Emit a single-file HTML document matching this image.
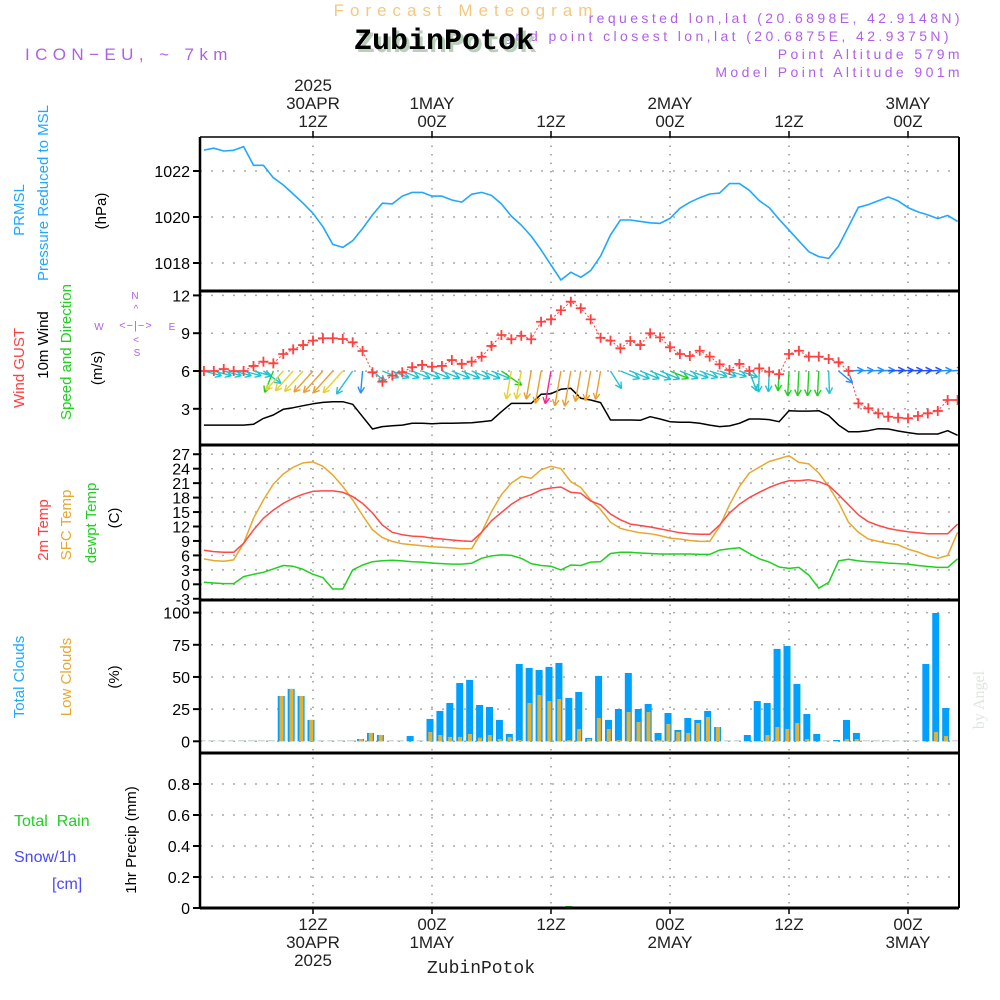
<!DOCTYPE html>
<html><head><meta charset="utf-8"><title>Meteogram ZubinPotok</title>
<style>
html,body{margin:0;padding:0;background:#fff;}
svg{display:block;font-family:"Liberation Sans",sans-serif;}
.tk{font-size:16px;fill:#000;}
.tm{font-size:17px;fill:#222;text-anchor:middle;}
.pl{font-size:14px;fill:#b060e8;text-anchor:end;letter-spacing:3.4px;}
</style></head>
<body>
<svg id="chart" width="1000" height="1000" viewBox="0 0 1000 1000" xmlns="http://www.w3.org/2000/svg">
  <defs><clipPath id="plotclip"><rect x="200" y="137" width="759" height="771"/></clipPath></defs>
  <text x="466" y="16" text-anchor="middle" font-size="17" fill="#f5c880" letter-spacing="6">Forecast Meteogram</text>
  <text class="pl" x="963" y="23">requested lon,lat (20.6898E, 42.9148N)</text>
  <text class="pl" x="952" y="41">grid point closest lon,lat (20.6875E, 42.9375N)</text>
  <text x="447" y="52" text-anchor="middle" font-family="'Liberation Mono',monospace" font-weight="bold" font-size="30" fill="#b8d0b8">ZubinPotok</text>
  <text x="444" y="49" text-anchor="middle" font-family="'Liberation Mono',monospace" font-weight="bold" font-size="30" fill="#000">ZubinPotok</text>
  <text x="25" y="60" font-size="17" fill="#b060e8" letter-spacing="5.4">ICON−EU, ~ 7km</text>
  <text class="pl" x="963" y="59">Point Altitude 579m</text>
  <text class="pl" x="963" y="77">Model Point Altitude 901m</text>

  <g font-size="15">
    <text transform="translate(24,210) rotate(-90)" text-anchor="middle" fill="#20a8ff">PRMSL</text>
    <text transform="translate(48,193) rotate(-90)" text-anchor="middle" fill="#20a8ff">Pressure Reduced to MSL</text>
    <text transform="translate(106,211) rotate(-90)" text-anchor="middle" fill="#000">(hPa)</text>
    <text transform="translate(24,368) rotate(-90)" text-anchor="middle" fill="#ff4040">Wind GUST</text>
    <text transform="translate(48,345) rotate(-90)" text-anchor="middle" fill="#000">10m Wind</text>
    <text transform="translate(71,352) rotate(-90)" text-anchor="middle" fill="#20d020">Speed and Direction</text>
    <text transform="translate(102,368) rotate(-90)" text-anchor="middle" fill="#000">(m/s)</text>
    <text transform="translate(48,530) rotate(-90)" text-anchor="middle" fill="#ff4040">2m Temp</text>
    <text transform="translate(71,525) rotate(-90)" text-anchor="middle" fill="#e8a830">SFC Temp</text>
    <text transform="translate(96,523) rotate(-90)" text-anchor="middle" fill="#20d020">dewpt Temp</text>
    <text transform="translate(119,518) rotate(-90)" text-anchor="middle" fill="#000">(C)</text>
    <text transform="translate(24,677) rotate(-90)" text-anchor="middle" fill="#20a8ff">Total Clouds</text>
    <text transform="translate(71,677) rotate(-90)" text-anchor="middle" fill="#e8a830">Low Clouds</text>
    <text transform="translate(119,677) rotate(-90)" text-anchor="middle" fill="#000">(%)</text>
    <text x="14" y="826" fill="#20d020" font-size="16" xml:space="preserve">Total  Rain</text>
    <text x="14" y="862" fill="#4848ff" font-size="16">Snow/1h</text>
    <text x="52" y="889" fill="#4848ff" font-size="16">[cm]</text>
    <text transform="translate(136,840) rotate(-90)" text-anchor="middle" fill="#000">1hr Precip (mm)</text>
  </g>
  <g fill="#b060e8" stroke="none" font-size="10">
    <text x="135" y="299" text-anchor="middle">N</text>
    <text x="136" y="312" text-anchor="middle">^</text>
    <text x="99" y="330" text-anchor="middle">W</text>
    <text x="172" y="330" text-anchor="middle">E</text>
    <text x="136" y="329" text-anchor="middle" font-size="11" letter-spacing="1">&lt;−|−&gt;</text>
    <text x="136" y="343" text-anchor="middle">&lt;</text>
    <text x="137" y="356" text-anchor="middle">S</text>
  </g>
  <text transform="translate(984,700) rotate(-90)" text-anchor="middle" font-family="'Liberation Serif',serif" font-size="16" fill="#dde6dd">by Angel</text>
  <text x="481" y="973" text-anchor="middle" font-family="'Liberation Mono',monospace" font-size="18" fill="#222">ZubinPotok</text>

  <g id="grid"></g>
  <g id="marks" clip-path="url(#plotclip)"></g>
  <g id="frame"></g>
  <g id="labels"></g>
</svg>
<script>
const hours = [];
for (let h = 1; h <= 77; h++) hours.push(h);
const pressure = [1022.91,1022.99,1022.87,1022.9,1023.06,1022.25,1022.25,1021.71,1021.39,1021.0,1020.6,1020.16,1019.58,1018.81,1018.68,1018.97,1019.5,1020.09,1020.6,1020.57,1020.91,1021.07,1021.07,1020.91,1020.91,1020.74,1020.65,1020.99,1021.07,1020.94,1020.57,1020.04,1019.65,1019.17,1018.57,1017.91,1017.26,1017.6,1017.38,1017.67,1018.30,1019.22,1019.87,1019.87,1019.81,1019.75,1019.72,1019.94,1020.38,1020.64,1020.84,1021.0,1021.04,1021.45,1021.45,1021.16,1020.71,1020.41,1019.9,1019.43,1018.96,1018.49,1018.28,1018.2,1018.74,1019.58,1020.42,1020.54,1020.71,1020.87,1020.70,1020.41,1020.22,1020.09,1019.93,1020.07,1019.81];
const gust = [6.0,6.0,6.16,6.0,6.0,6.4,6.74,6.61,7.35,7.72,8.06,8.41,8.6,8.6,8.54,8.28,7.59,5.90,5.15,5.63,5.90,6.30,6.48,6.34,6.4,6.87,6.56,6.74,7.13,7.99,8.86,8.52,8.80,8.52,9.91,10.1,10.82,11.5,10.98,10.1,8.64,8.41,7.80,8.38,8.06,8.99,8.67,7.88,7.35,7.19,7.61,7.14,6.53,6.08,6.56,6.0,6.21,5.94,5.74,7.35,7.61,7.14,7.14,6.95,6.69,6.0,3.43,3.04,2.64,2.37,2.29,2.24,2.43,2.64,2.83,3.70,3.70];
const windSpeed = [1.71,1.71,1.71,1.71,1.71,1.77,2.24,2.51,2.96,3.09,3.25,3.40,3.51,3.56,3.56,3.36,2.37,1.40,1.59,1.66,1.71,1.85,1.85,1.82,1.85,1.85,1.87,1.90,1.98,2.06,2.77,3.43,3.43,3.43,4.15,4.2,4.55,4.63,3.83,3.70,3.49,2.11,2.11,2.11,2.09,2.37,2.19,1.98,1.93,1.93,1.85,1.71,1.59,1.64,1.85,2.19,2.19,2.14,1.98,2.85,2.82,2.82,2.85,2.46,1.71,1.18,1.18,1.26,1.42,1.40,1.24,1.11,1.0,1.0,1.0,1.26,0.90];
const windDir = [15,15,15,15,15,15,35,112,132,132,132,132,132,132,132,125,95,40,22,22,22,22,22,22,22,22,22,22,22,22,35,100,100,100,100,100,100,100,100,100,100,58,22,22,22,22,22,22,22,20,20,18,18,18,18,70,92,92,93,93,93,93,93,88,40,-3,-3,-3,-3,-3,-3,-3,-3,-3,-3,-3,-3];
const windCol = ['c','c','c','c','c','c','c','g','y','y','y','o','o','o','y','c','b','c','c','c','c','c','c','c','c','c','c','c','c','c','g','y','y','o','o','p','o','o','o','o','o','c','c','c','c','c','c','g','c','c','c','c','c','c','c','c','c','c','g','g','g','g','g','c','b','b','b','b','b','d','d','d','d','d','b','b','b'];
const temp2m = [7.07,6.79,6.65,6.65,8.52,11.3,13.7,15.4,16.8,17.9,18.7,19.3,19.4,19.4,19.1,18.2,16.8,14.8,12.3,10.8,10.3,10.0,9.9,9.6,9.4,9.2,9.0,8.9,10.8,13.2,14.9,16.6,17.9,18.6,19.6,20.0,20.2,19.1,18.9,17.3,16.5,14.6,13.4,12.5,12.2,11.9,11.5,11.1,10.7,10.5,10.4,10.4,12.3,14.8,16.6,18.0,19.1,20.1,20.9,21.5,21.5,21.7,21.3,20.5,18.6,16.5,14.4,13.0,12.2,11.6,11.2,10.9,10.7,10.5,10.5,10.5,12.5];
const sfcTemp = [5.27,4.92,4.78,5.06,8.52,13.7,17.5,20.8,22.9,24.3,25.2,25.4,24.5,22.7,20.3,17.5,14.3,11.3,9.7,8.9,8.4,8.2,8.0,7.8,7.7,7.55,7.4,7.4,10.8,15.1,18.6,21.0,22.4,22.0,23.8,24.5,24.0,21.3,20.1,17.5,15.5,12.9,11.6,11.1,10.7,10.5,10.1,9.6,9.4,9.1,8.9,8.9,12.0,16.5,20.3,23.1,24.3,25.5,26.1,26.7,25.3,25.0,23.1,20.3,17.0,12.9,10.8,9.4,8.9,8.5,8.2,7.3,6.7,5.9,5.4,6.0,10.8];
const dewpt = [0.42,0.28,0.14,0.14,1.6,2.08,2.5,3.2,3.9,3.74,3.1,2.08,1.39,-0.97,-0.97,2.98,4.0,4.7,4.9,5.0,4.85,4.7,4.6,4.4,4.3,4.2,4.2,4.37,5.4,5.9,6.1,6.0,5.4,4.3,3.9,3.74,2.98,4.0,3.9,4.6,4.7,6.4,6.65,6.65,6.5,6.4,6.3,6.3,6.3,6.3,6.2,6.2,7.1,7.4,7.6,6.4,5.3,4.6,3.6,3.3,3.5,1.9,-0.8,0.4,4.85,5.2,4.85,4.7,4.6,4.4,4.3,4.2,3.9,3.7,3.5,3.5,5.3];
const totalClouds = [0,0,0,0,0,0,0,0,35.2,40.7,35.2,16.6,0,0,0,0,1.8,6.5,4.9,0,0,4.1,0,17.4,23.6,29.8,45.3,47.7,28.2,26.7,16.6,5.7,60.1,57.0,55.4,57.8,60.9,33.7,38.3,2.6,50.8,16.6,25.1,53.1,25.1,29.0,6.5,22.0,8.8,18.1,16.6,23.6,11.1,0,0,4.9,31.3,29.8,71.8,74.1,44.6,21.2,5.7,0,1,16.6,6.5,0,0,0,0,0,0,60.1,99.7,25.9,0];
const lowClouds = [0,0,0,0,0,0,0,0,35.2,40.7,35.2,16.6,0,0,0,0,1.8,6.5,4.9,0,0,0,0,7.3,4.9,3.4,3.4,5.7,2.8,4.9,1.8,3.4,1,29.8,36,31.3,32.9,1,9.6,1.8,18.1,9.6,1,22.8,15,22.8,1,13.5,7.3,6.5,14.2,18.9,11.1,0,0,0,0,4.9,11.1,9.6,14.2,1.8,0,0,0,1.8,1.8,0,0,0,0,0,0,0,7.3,4.1,0];
const precip = [0,0,0,0,0,0,0,0,0,0,0,0,0,0,0,0,0,0,0,0,0,0,0,0,0,0,0,0,0,0,0,0,0,0,0,0,0,0.012,0,0,0,0,0,0,0,0,0,0,0,0,0,0,0,0,0,0,0,0,0,0,0,0,0,0,0,0,0,0,0,0,0,0,0,0,0,0,0];
const timeTicks = [12,24,36,48,60,72];
const topTickLines = [["2025","30APR","12Z"],["1MAY","00Z"],["12Z"],["2MAY","00Z"],["12Z"],["3MAY","00Z"]];
const botTickLines = [["12Z","30APR","2025"],["00Z","1MAY"],["12Z"],["00Z","2MAY"],["12Z"],["00Z","3MAY"]];
const pressTicks = [1018,1020,1022];
const windTicks = [3,6,9,12];
const tempTicks = [-3,0,3,6,9,12,15,18,21,24,27];
const cloudTicks = [0,25,50,75,100];
const precipTicks = [0,0.2,0.4,0.6,0.8];
const precipTickLabels = ["0","0.2","0.4","0.6","0.8"];

const X0 = 200, X1 = 959;
const xOf = h => 313 + (h - 12) * 119 / 12;
const yP = p => 217 - (p - 1020) * 23;
const yW = v => 446.6 - v * 12.6;
const yT = t => 584.3 - t * 4.817;
const yC = c => 741.3 - c * 1.287;
const yR = r => 908 - r * 155;

const NS = 'http://www.w3.org/2000/svg';
function mk(tag, attrs, parent) {
  const e = document.createElementNS(NS, tag);
  for (const k in attrs) e.setAttribute(k, attrs[k]);
  parent.appendChild(e);
  return e;
}
const grid = document.getElementById('grid');
const marks = document.getElementById('marks');
const frame = document.getElementById('frame');
const labels = document.getElementById('labels');
const colMap = {c:'#20c4d0', g:'#20d020', y:'#e8d030', o:'#e8a030', p:'#ff2090', b:'#2090ff', d:'#2050ff'};

timeTicks.forEach(h => {
  const l = mk('line', {x1:xOf(h), x2:xOf(h), y1:137, y2:908, stroke:'#999', 'stroke-width':1.5, 'stroke-dasharray':'1.5,7'}, grid);
  
  
});
function hgrid(vals, yf, txt, name) {
  vals.forEach((v, i) => {
    const y = yf(v);
    const g = mk('line', {x1:X0, x2:X1, y1:y, y2:y, stroke:'#aaa', 'stroke-width':1.5, 'stroke-dasharray':'2,9'}, grid);
    
    
    const t = mk('line', {x1:193, x2:X0, y1:y, y2:y, stroke:'#000', 'stroke-width':2}, frame);
    
    
    const tx = mk('text', {x:190, y:y + 6, 'text-anchor':'end', class:'tk'}, labels);
    tx.textContent = txt ? txt[i] : String(v);
    
    
  });
}
hgrid(pressTicks, yP, null, 'pressure');
hgrid(windTicks, yW, null, 'wind');
hgrid(tempTicks, yT, null, 'temp');
hgrid(cloudTicks, yC, null, 'cloud');
hgrid(precipTicks, yR, precipTickLabels, 'precip');

timeTicks.forEach((h, i) => {
  const x = xOf(h);
  const lt = topTickLines[i];
  lt.forEach((s, j) => {
    const t = mk('text', {x:x, y:127 - (lt.length - 1 - j) * 18, class:'tm'}, labels);
    t.textContent = s;
    
    
  });
  botTickLines[i].forEach((s, j) => {
    const t = mk('text', {x:x, y:930 + j * 18, class:'tm'}, labels);
    t.textContent = s;
    
    
  });
  const a = mk('line', {x1:x, x2:x, y1:131, y2:137, stroke:'#000', 'stroke-width':1.5}, frame);
  
  
  const b = mk('line', {x1:x, x2:x, y1:908, y2:914, stroke:'#000', 'stroke-width':1.5}, frame);
  
  
});

function poly(vals, yf, color, name, w, dash) {
  const pts = vals.map((v, i) => xOf(hours[i]).toFixed(1) + ',' + yf(v).toFixed(1)).join(' ');
  const p = mk('polyline', {points:pts, fill:'none', stroke:color, 'stroke-width':w || 1.5, 'stroke-linejoin':'round'}, marks);
  if (dash) p.setAttribute('stroke-dasharray', dash);
  
  
}
poly(pressure, yP, '#20a8ff', 'pressure-line', 1.6);
poly(windSpeed, yW, '#000', 'wind-speed-line', 1.5);
windDir.forEach((d, i) => {
  const x0 = xOf(hours[i]), y0 = yW(6);
  const len = 8 + 6 * windSpeed[i];
  const a = d * Math.PI / 180;
  const x1 = x0 + len * Math.cos(a), y1 = y0 + len * Math.sin(a);
  const col = colMap[windCol[i]];
  const g = mk('g', {stroke:col, 'stroke-width':1.4, fill:'none'}, marks);
  
  
  mk('line', {x1:x0, y1:y0, x2:x1, y2:y1}, g);
  [-28, 28].forEach(off => {
    const b = a + Math.PI + off * Math.PI / 180;
    mk('line', {x1:x1, y1:y1, x2:x1 + 7 * Math.cos(b), y2:y1 + 7 * Math.sin(b)}, g);
  });
});
poly(gust, yW, '#ff4040', 'gust-line', 1, '2,2');
gust.forEach((v, i) => {
  const x = xOf(hours[i]), y = yW(v);
  const p = mk('path', {d:`M${x-5},${y}H${x+5}M${x},${y-5}V${y+5}`, stroke:'#ff4040', 'stroke-width':1.8}, marks);
  
  
});
poly(sfcTemp, yT, '#e8a830', 'sfc-temp-line', 1.5);
poly(temp2m, yT, '#ff4848', 'temp-2m-line', 1.5);
poly(dewpt, yT, '#20d020', 'dewpoint-line', 1.5);
totalClouds.forEach((v, i) => {
  const cx = xOf(hours[i]) - 2;
  const y = yC(v), y0 = yC(0);
  const r = mk('rect', {x:cx - 3.5, y:Math.min(y, y0 - 1), width:7, height:Math.max(1, y0 - y), fill: v > 0 ? '#00a0ff' : '#b8c8c8'}, marks);
  
  
});
lowClouds.forEach((v, i) => {
  if (v <= 0) return;
  const cx = xOf(hours[i]) - 2;
  const y = yC(v), y0 = yC(0);
  const r = mk('rect', {x:cx - 1.7, y:Math.min(y, y0 - 1), width:4, height:Math.max(1, y0 - y), fill:'#e8b030'}, marks);
  
  
});
precip.forEach((v, i) => {
  if (v <= 0) return;
  const cx = xOf(hours[i]) - 2;
  const y = yR(v), y0 = yR(0);
  const r = mk('rect', {x:cx - 3.5, y:Math.min(y, y0 - 2), width:7, height:Math.max(2, y0 - y), fill:'#20d020'}, marks);
  
  
});

const fl = [
  ['frame-top', X0, 137, X1, 137, 1.5],
  ['frame-right', X1, 137, X1, 908, 2],
  ['frame-left', X0, 137, X0, 908, 2.5],
  ['panel-separator', X0, 291, X1, 291, 3],
  ['panel-separator', X0, 445, X1, 445, 3],
  ['panel-separator', X0, 600, X1, 600, 3],
  ['panel-separator', X0, 753, X1, 753, 3],
  ['frame-bottom', X0, 908, X1, 908, 3]
];
fl.forEach(f => {
  const l = mk('line', {x1:f[1], y1:f[2], x2:f[3], y2:f[4], stroke:'#000', 'stroke-width':f[5]}, frame);
  
  
});
</script>
</body></html>
